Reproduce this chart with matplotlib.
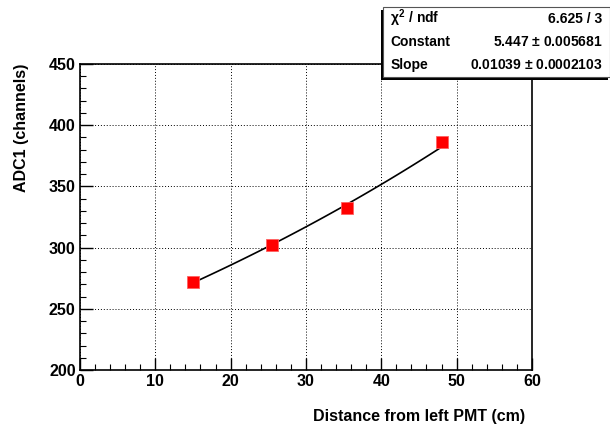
import numpy as np
import matplotlib
matplotlib.use("Agg")
import matplotlib.pyplot as plt
from matplotlib.ticker import MultipleLocator
from matplotlib.patches import Rectangle

# measured points
distance = [15.0, 25.5, 35.5, 48.0]
adc1 = [272, 302, 332, 386]

# exponential fit parameters: exp(constant + slope * x)
fit_constant = 5.447
fit_slope = 0.01039
fit_range = (15.0, 48.0)

stat_labels = [r"$\chi^2$ / ndf", "Constant", "Slope"]
stat_values = ["6.625 / 3", "5.447 $\\pm$ 0.005681", "0.01039 $\\pm$ 0.0002103"]

plt.rcParams['font.family'] = ['Liberation Sans', 'DejaVu Sans']
plt.rcParams['font.weight'] = 'bold'
plt.rcParams['mathtext.fontset'] = 'custom'
plt.rcParams['mathtext.rm'] = 'Liberation Sans:bold'
plt.rcParams['mathtext.it'] = 'Liberation Sans:bold'

fig = plt.figure(figsize=(6.1, 4.28), dpi=100)
ax = fig.add_axes([0.131, 0.1355, 0.741, 0.715])

ax.set_xlim(0, 60)
ax.set_ylim(200, 450)
ax.xaxis.set_major_locator(MultipleLocator(10))
ax.xaxis.set_minor_locator(MultipleLocator(2))
ax.yaxis.set_major_locator(MultipleLocator(50))
ax.yaxis.set_minor_locator(MultipleLocator(10))
ax.tick_params(which='both', direction='in', top=False, right=False, labelsize=11.5, pad=3)
ax.tick_params(which='major', length=9, width=1)
ax.tick_params(which='minor', length=4, width=0.8)
for lbl in ax.get_xticklabels() + ax.get_yticklabels():
    lbl.set_fontweight('bold')
ax.grid(True, which='major', linestyle=(0, (1, 2)), color='black', linewidth=0.7)
for sp in ax.spines.values():
    sp.set_linewidth(1.2)

xf = np.linspace(fit_range[0], fit_range[1], 100)
ax.plot(xf, np.exp(fit_constant + fit_slope * xf), color='black', linewidth=1.2, zorder=3)
ax.plot(distance, adc1, linestyle='none', marker='s', markersize=8,
        markerfacecolor='#ff0000', markeredgecolor='#ff6060', markeredgewidth=0.6, zorder=4)

ax.set_xlabel("Distance from left PMT (cm)", fontsize=11.5, fontweight='bold', ha='right', x=0.985, labelpad=14)
ax.set_ylabel("ADC1 (channels)", fontsize=11.5, fontweight='bold', ha='right', y=1.0, labelpad=14)

# stats box with shadow
bx0, by0, bw, bh = 383 / 610, 1 - 77 / 428, 1 - 383 / 610, 70 / 428
fig.patches.append(Rectangle((bx0 - 0.004, by0 - 0.006), bw, bh, transform=fig.transFigure,
                             facecolor='black', edgecolor='none', zorder=5))
fig.patches.append(Rectangle((bx0, by0), bw, bh, transform=fig.transFigure,
                             facecolor='white', edgecolor='#555555', linewidth=0.8, zorder=6))
row_h = bh / 3
for i, (lab, val) in enumerate(zip(stat_labels, stat_values)):
    yc = by0 + bh - (i + 0.5) * row_h
    fig.text(bx0 + 0.012, yc, lab, fontsize=10, fontweight='bold', va='center', ha='left', zorder=7)
    fig.text(0.988, yc, val, fontsize=10, fontweight='bold', va='center', ha='right', zorder=7)

fig.savefig("out.png", dpi=100)
